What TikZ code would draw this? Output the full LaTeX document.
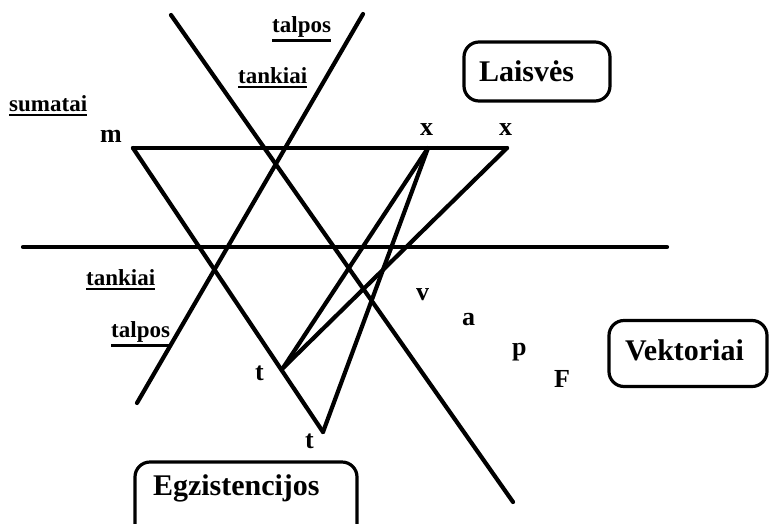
\documentclass[tikz,border=0pt]{standalone}
\usepackage{fontspec}
\setmainfont{Liberation Serif}
\usepackage{tikz}
\usetikzlibrary{positioning}
\newcommand{\undl}[1]{\vtop{\hbox{#1}\kern2.5pt\hrule height 2.2pt}}

\begin{document}
\begin{tikzpicture}[
  x=1pt, y=-1pt,
  ln/.style={line width=4.2pt, line cap=round, line join=round},
  lbl/.style={anchor=base west, inner sep=0pt, font=\fontsize{23}{26}\selectfont\bfseries},
  sym/.style={anchor=base west, inner sep=0pt, font=\fontsize{26}{30}\selectfont\bfseries},
  grp/.style={rectangle, rounded corners=15pt, draw, line width=3.2pt, align=left,
              font=\fontsize{30}{34}\selectfont\bfseries, inner ysep=0pt}
]
\useasboundingbox (0,0) rectangle (771,523);
% vertices of the triangles
\coordinate (m) at (133,148);
\coordinate (xl) at (428,148);
\coordinate (xr) at (507,148);
\coordinate (tu) at (283,368);
\coordinate (tl) at (323,432);
% free ends of the long lines
\coordinate (da) at (171,15);
\coordinate (db) at (513,502);
\coordinate (ua) at (363,14);
\coordinate (ub) at (137,403);
\coordinate (ha) at (23,247);
\coordinate (hb) at (667,247);
\foreach \p/\q in {da/db,ua/ub,ha/hb,m/xr,m/tl,tu/xl,tu/xr,tl/xl}{\draw[ln] (\p) -- (\q);}
% labels
\node[lbl] (talposA) at (272,32) {\undl{talpos}};
\node[lbl] (tankiaiA) at (238,83) {\undl{tankiai}};
\node[lbl] (sumatai) at (9,111) {\undl{sumatai}};
\node[lbl] (tankiaiB) at (86,285) {\undl{tankiai}};
\node[lbl] (talposB) at (111,337) {\undl{talpos}};
\node[sym] (mlab) at (100,142) {m};
\node[sym] (xllab) at (420,135) {x};
\node[sym] (xrlab) at (499,135) {x};
\node[sym] (tulab) at (255,380) {t};
\node[sym] (tllab) at (305,448) {t};
\node[sym] (v) at (416,300) {v};
\node[sym] (a) at (462,325) {a};
\node[sym] (p) at (512,355) {p};
\node[sym] (F) at (554,387) {F};
% boxes
\node[grp, text width=116pt, inner xsep=15pt, minimum height=59pt,
      text height=20pt, text depth=1pt] (laisves) at (537,71.5) {Laisvės};
\node[grp, text width=126pt, inner xsep=16pt, minimum height=66pt,
      text height=20pt, text depth=7pt] (vektoriai) at (688,353.5) {Vektoriai};
\node[grp, text width=186pt, inner xsep=18pt, minimum height=80pt,
      text height=20pt, text depth=34pt] (egzist) at (246,502) {Egzistencijos};
\end{tikzpicture}
\end{document}
